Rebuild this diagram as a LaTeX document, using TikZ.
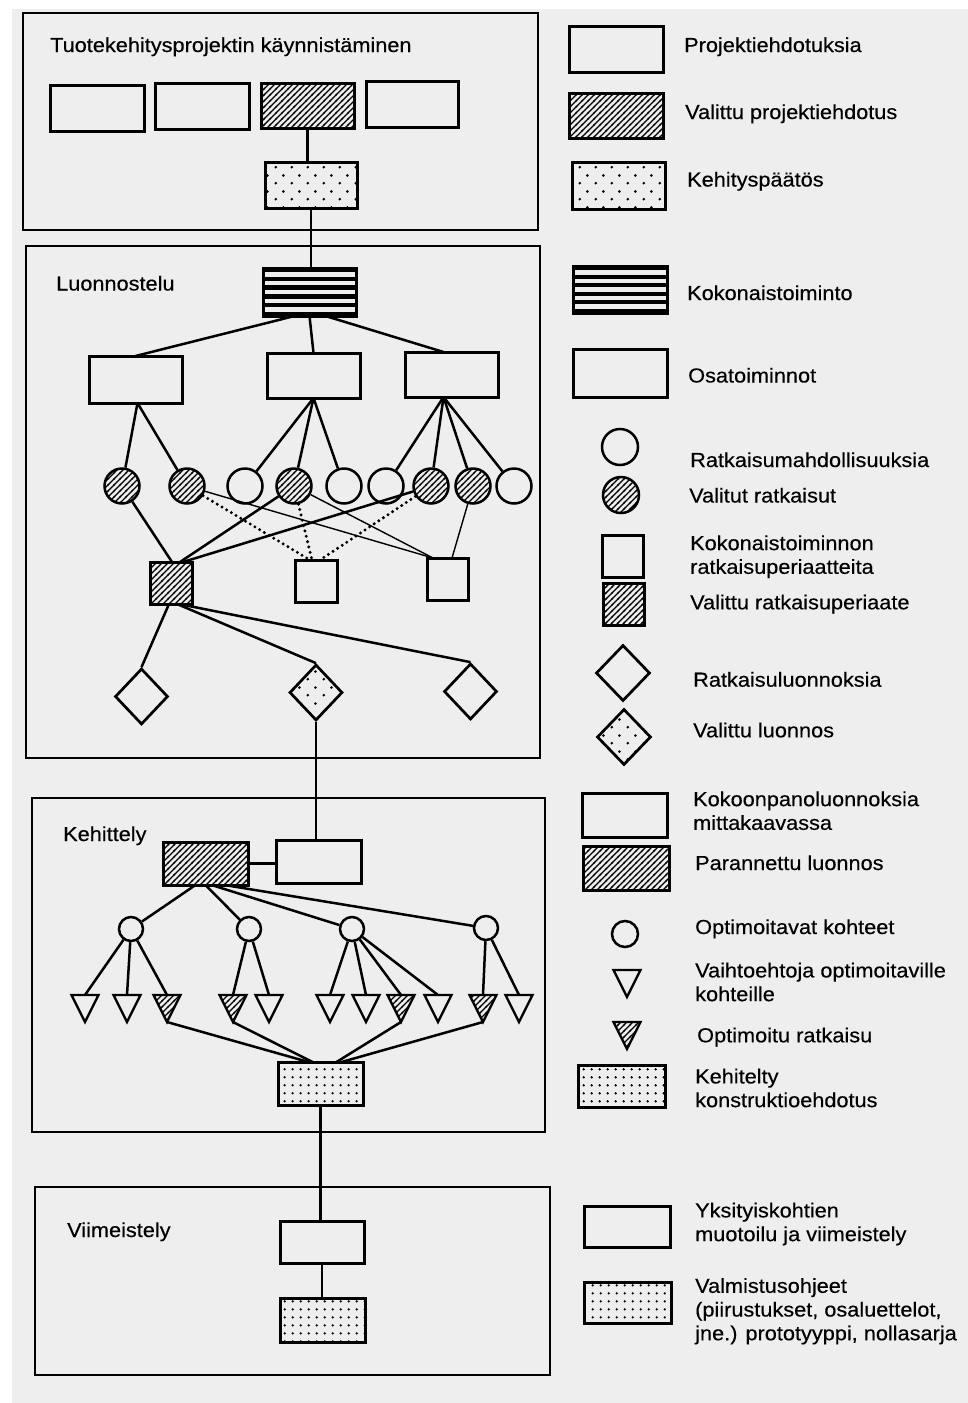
\documentclass[tikz,border=0pt]{standalone}
\usepackage{fontspec}
\setmainfont{Liberation Sans}[FakeStretch=1.07,FakeBold=0.35]
\usetikzlibrary{patterns,shapes.geometric,calc}
\definecolor{bgc}{RGB}{238,238,238}
\pgfdeclarepatternformonly{myhatch}{\pgfqpoint{-1pt}{-1pt}}{\pgfqpoint{7pt}{7pt}}{\pgfqpoint{6pt}{6pt}}{%
  \pgfsetlinewidth{1.1pt}\pgfpathmoveto{\pgfqpoint{-1pt}{-1pt}}\pgfpathlineto{\pgfqpoint{7pt}{7pt}}\pgfusepath{stroke}}
\pgfdeclarepatternformonly{sparsedots}{\pgfqpoint{0pt}{0pt}}{\pgfqpoint{16pt}{16pt}}{\pgfqpoint{16pt}{16pt}}{%
  \pgfpathcircle{\pgfqpoint{4pt}{4pt}}{1.5pt}\pgfpathcircle{\pgfqpoint{12pt}{12pt}}{1.5pt}\pgfusepath{fill}}
\pgfdeclarepatternformonly{densedots}{\pgfqpoint{0pt}{0pt}}{\pgfqpoint{8.3pt}{8.3pt}}{\pgfqpoint{8.3pt}{8.3pt}}{%
  \pgfpathcircle{\pgfqpoint{4pt}{4pt}}{1.35pt}\pgfusepath{fill}}
\newcommand{\placebox}[6]{%
  \pgfmathsetmacro{\bxw}{#5-#3}%
  \pgfmathsetmacro{\bxh}{#6-#4}%
  \node[#1, minimum width=\bxw pt, minimum height=\bxh pt] (#2) at ({(#3+#5)/2},{(#4+#6)/2}) {};%
}
\begin{document}
\begin{tikzpicture}[x=1pt,y=-1pt,
  pbox/.style={draw, line width=3pt, inner sep=0pt, outer sep=0pt},
  hbox/.style={pbox, pattern=myhatch},
  sdbox/.style={pbox, pattern=sparsedots},
  ddbox/.style={pbox, pattern=densedots},
  stbox/.style={pbox, fill=black, path picture={
    \foreach \i in {1,3,5,7,9}{
      \fill[bgc] ($(path picture bounding box.north west)!{\i/11}!(path picture bounding box.south west)$) rectangle ($(path picture bounding box.north east)!{(\i+1)/11}!(path picture bounding box.south east)$);
    }}},
  sect/.style={draw, line width=2.7pt, inner sep=0pt, outer sep=0pt},
  conn/.style={line width=2.5pt},
  thinconn/.style={line width=1.4pt},
  dotconn/.style={line width=3.3pt, dash pattern=on 0pt off 5.5pt, line cap=round},
  rc/.style={circle, draw, line width=2.5pt, inner sep=0pt, minimum size=35pt},
  hc/.style={rc, pattern=myhatch},
  sc/.style={circle, draw, line width=2.5pt, inner sep=0pt, minimum size=24pt},
  dia/.style={diamond, draw, line width=2.7pt, inner sep=0pt, minimum width=53pt, minimum height=56pt},
  tri/.style={isosceles triangle, isosceles triangle stretches, shape border rotate=270, draw, line width=2.3pt, inner sep=0pt, outer sep=0pt, minimum width=27pt, minimum height=27pt, anchor=north},
  lbl/.style={font=\fontsize{20.3}{23.7}\selectfont, inner sep=0pt, anchor=base west},
  mlbl/.style={lbl, anchor=north west, align=left}
]
\useasboundingbox (0,0) rectangle (968,1403);
\fill[white] (0,0) rectangle (968,1403);
\fill[bgc] (12,9) rectangle (968,1403);

% sections
\placebox{sect}{s1}{23}{13}{538}{230}
\placebox{sect}{s2}{26}{246}{540}{758}
\placebox{sect}{s3}{32}{798}{545}{1132}
\placebox{sect}{s4}{35}{1187}{550}{1375}
\node[lbl] (ttl1) at (50,52) {Tuotekehitysprojektin käynnistäminen};
\node[lbl] (ttl2) at (56,290.5) {Luonnostelu};
\node[lbl] (ttl3) at (63,841) {Kehittely};
\node[lbl] (ttl4) at (67,1237) {Viimeistely};

% section 1
\placebox{pbox}{b1}{50}{85}{144}{131}
\placebox{pbox}{b2}{155}{83}{249}{129}
\placebox{hbox}{b3}{261}{83}{354}{128}
\placebox{pbox}{b4}{366}{81}{458}{127}
\placebox{sdbox}{kp}{265}{162}{357}{208}

% section 2
\placebox{stbox}{kt}{263}{268}{356}{316}
\placebox{pbox}{oa}{89}{356}{182}{403}
\placebox{pbox}{ob}{267}{353}{360}{398}
\placebox{pbox}{oc}{405}{352}{498}{397}
\node[hc] (c1) at (122,486) {};
\node[hc] (c2) at (187,486) {};
\node[rc] (c3) at (245,486) {};
\node[hc] (c4) at (294,486) {};
\node[rc] (c5) at (344,486) {};
\node[rc] (c6) at (386,486) {};
\node[hc] (c7) at (431,486) {};
\node[hc] (c8) at (473,486) {};
\node[rc] (c9) at (514,486) {};
\placebox{hbox}{hq}{150}{562}{192}{604}
\placebox{pbox}{sq2}{295}{560}{337}{602}
\placebox{pbox}{sq3}{427}{558}{468}{600}
\node[dia] (d1) at (141.5,696.5) {};
\node[dia, pattern=sparsedots] (d2) at (316,692.5) {};
\node[dia] (d3) at (470.5,691.5) {};

% section 3
\placebox{hbox}{kh}{163}{842}{248}{885}
\placebox{pbox}{kw}{276}{840}{361}{883}
\node[sc] (o1) at (131,929) {};
\node[sc] (o2) at (249,929) {};
\node[sc] (o3) at (352,929) {};
\node[sc] (o4) at (486,928) {};
\node[tri] (t1) at (85,995) {};
\node[tri] (t2) at (127,995) {};
\node[tri, pattern=myhatch] (t3) at (167,995) {};
\node[tri, pattern=myhatch] (t4) at (233,995) {};
\node[tri] (t5) at (269,995) {};
\node[tri] (t6) at (330,995) {};
\node[tri] (t7) at (366,995) {};
\node[tri, pattern=myhatch] (t8) at (401,995) {};
\node[tri] (t9) at (438,995) {};
\node[tri, pattern=myhatch] (t10) at (483,995) {};
\node[tri] (t11) at (519,995) {};
\placebox{ddbox}{kd}{278}{1062}{363}{1105}

% section 4
\placebox{pbox}{vw}{280}{1221}{364}{1263}
\placebox{ddbox}{vd}{280}{1298}{365}{1342}

% connectors
\draw[conn] (b3.south) -- (b3.south |- kp.north);
\draw[conn] (kp.south) -- (kp.south |- kt.north);
\draw[conn] ([xshift=-15pt]kt.south) -- (oa.north);
\draw[conn] (kt.south) -- (ob.north);
\draw[conn] ([xshift=16pt]kt.south) -- ([xshift=-8pt]oc.north);
\draw[conn] ([xshift=2pt]oa.south) -- (c1);
\draw[conn] ([xshift=2pt]oa.south) -- (c2);
\draw[conn] (ob.south) -- (c3);
\draw[conn] (ob.south) -- (c4);
\draw[conn] (ob.south) -- (c5);
\draw[conn] ([xshift=-8pt]oc.south) -- (c6);
\draw[conn] ([xshift=-8pt]oc.south) -- (c7);
\draw[conn] ([xshift=-8pt]oc.south) -- (c8);
\draw[conn] ([xshift=-8pt]oc.south) -- (c9);
\draw[conn] (c1) -- ([xshift=1pt]hq.north);
\draw[conn] (c4) -- ([xshift=9pt]hq.north);
\draw[conn] (c7) -- ([xshift=12pt]hq.north);
\draw[dotconn] (c2) -- ([xshift=-6pt]sq2.north);
\draw[dotconn] (c4) -- ([xshift=-4pt]sq2.north);
\draw[dotconn] (c7) -- ([xshift=4pt]sq2.north);
\draw[thinconn] (c2) -- ([xshift=6pt]sq3.north west);
\draw[thinconn] (c4) -- ([xshift=6pt]sq3.north west);
\draw[thinconn] (c8) -- ([xshift=25pt]sq3.north west);
\draw[conn] ([xshift=-2pt]hq.south) -- (d1.north);
\draw[conn] ([xshift=6pt]hq.south) -- (d2.north);
\draw[conn] ([xshift=8pt]hq.south) -- (d3.north);
\draw[conn] (d2.south) -- (d2.south |- kw.north);
\draw[conn] (kh.east) -- (kh.east -| kw.west);
\draw[conn] ([xshift=-10pt]kh.south) -- (o1);
\draw[conn] (kh.south) -- (o2);
\draw[conn] ([xshift=6pt]kh.south) -- (o3);
\draw[conn] ([xshift=19pt]kh.south) -- (o4);
\foreach \t in {1,2,3} \draw[conn] (o1) -- (t\t.north);
\foreach \t in {4,5} \draw[conn] (o2) -- (t\t.north);
\foreach \t in {6,7,8,9} \draw[conn] (o3) -- (t\t.north);
\foreach \t in {10,11} \draw[conn] (o4) -- (t\t.north);
\draw[conn] (t3.apex) -- ([xshift=-12pt]kd.north);
\draw[conn] (t4.apex) -- ([xshift=-8pt]kd.north);
\draw[conn] (t8.apex) -- ([xshift=16pt]kd.north);
\draw[conn] (t10.apex) -- ([xshift=21pt]kd.north);
\draw[conn] (kd.south) -- (kd.south |- vw.north);
\draw[conn] (vw.south) -- (vw.south |- vd.north);

% legend
\placebox{pbox}{g1}{569}{26}{663}{72}
\node[lbl] (l1) at (684,52) {Projektiehdotuksia};
\placebox{hbox}{g2}{569}{93}{663}{138}
\node[lbl] (l2) at (685,119) {Valittu projektiehdotus};
\placebox{sdbox}{g3}{572}{162}{665}{209}
\node[lbl] (l3) at (687,186.5) {Kehityspäätös};
\placebox{stbox}{g4}{573}{266}{667}{313}
\node[lbl] (l4) at (687,300) {Kokonaistoiminto};
\placebox{pbox}{g5}{573}{349}{667}{397}
\node[lbl] (l5) at (688,382.5) {Osatoiminnot};
\node[rc, minimum size=36pt] (g6) at (620,447) {};
\node[lbl] (l6) at (690,467) {Ratkaisumahdollisuuksia};
\node[hc, minimum size=36pt] (g7) at (621,495) {};
\node[lbl] (l7) at (689,502.5) {Valitut ratkaisut};
\placebox{pbox}{g8}{602}{535}{643}{577}
\node[mlbl] (l8) at (690,535.2) {Kokonaistoiminnon\\ratkaisuperiaatteita};
\placebox{hbox}{g9}{603}{583}{644}{625}
\node[lbl] (l9) at (690,609.3) {Valittu ratkaisuperiaate};
\node[dia, minimum width=54pt] (g10) at (623,673) {};
\node[lbl] (l10) at (693,686.7) {Ratkaisuluonnoksia};
\node[dia, minimum width=54pt, pattern=sparsedots] (g11) at (624,737) {};
\node[lbl] (l11) at (693,737.3) {Valittu luonnos};
\placebox{pbox}{g12}{582}{793}{667}{837}
\node[mlbl] (l12) at (693,791.2) {Kokoonpanoluonnoksia\\mittakaavassa};
\placebox{hbox}{g13}{583}{846}{669}{890}
\node[lbl] (l13) at (695,870) {Parannettu luonnos};
\node[sc, minimum size=26pt] (g14) at (625,934) {};
\node[lbl] (l14) at (695,934) {Optimoitavat kohteet};
\node[tri] (g15) at (627,970) {};
\node[mlbl] (l15) at (695,962.5) {Vaihtoehtoja optimoitaville\\kohteille};
\node[tri, pattern=myhatch] (g16) at (627,1022) {};
\node[lbl] (l16) at (697,1042.3) {Optimoitu ratkaisu};
\placebox{ddbox}{g17}{578}{1065}{665}{1107}
\node[mlbl] (l17) at (695,1068.5) {Kehitelty\\konstruktioehdotus};
\placebox{pbox}{g18}{584}{1206}{670}{1247}
\node[mlbl] (l18) at (695,1202.5) {Yksityiskohtien\\muotoilu ja viimeistely};
\placebox{ddbox}{g19}{584}{1282}{671}{1323}
\node[mlbl] (l19) at (695,1277.9) {Valmistusohjeet\\(piirustukset, osaluettelot,\\jne.) prototyyppi, nollasarja};
\end{tikzpicture}
\end{document}
